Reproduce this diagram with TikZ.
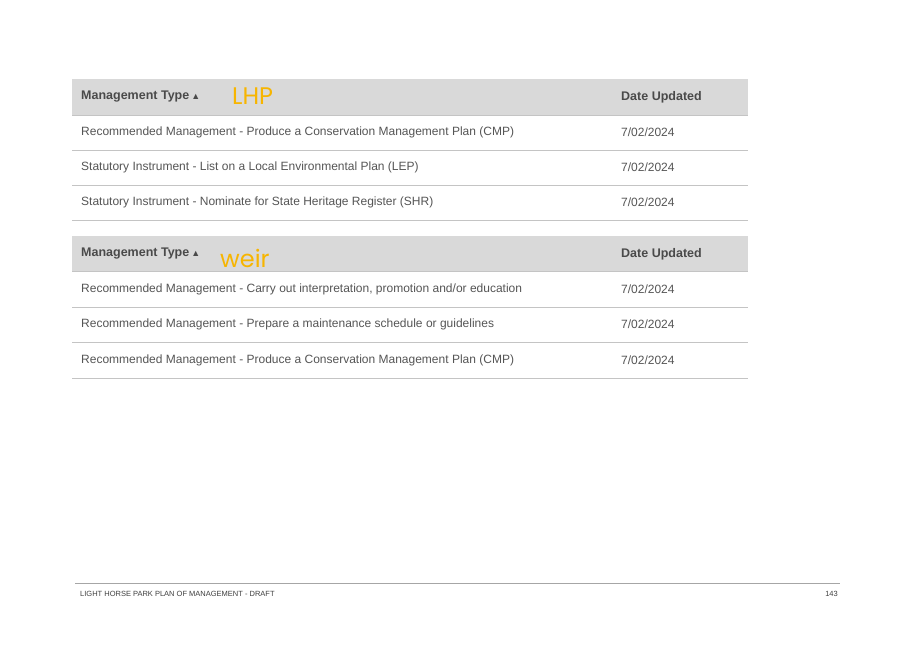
\documentclass[tikz,border=0pt]{standalone}
\usepackage{fontspec}
\setmainfont{Liberation Sans}
\newfontfamily\hand{Poppins}
\definecolor{hdr}{HTML}{D9D9D9}
\definecolor{rl}{HTML}{C4C4C4}
\definecolor{tx}{HTML}{555555}
\definecolor{hx}{HTML}{4A4A4A}
\definecolor{yel}{HTML}{F7B500}
\begin{document}
\begin{tikzpicture}[x=1pt,y=-1pt,
  cell/.style={anchor=west,inner sep=0pt,text=tx,font=\fontsize{12}{14}\selectfont},
  hcell/.style={anchor=west,inner sep=0pt,text=hx,font=\fontsize{12.5}{14}\selectfont\bfseries},
  rule/.style={draw=rl,line width=0.9pt},
  handw/.style={anchor=west,inner sep=0pt,text=yel,font=\hand\fontsize{24}{24}\selectfont}]
\useasboundingbox (0,0) rectangle (917,648);
\fill[white] (0,0) rectangle (917,648);
% table 1
\fill[hdr] (72,79) rectangle (748,115);
\draw[rule] (72,115) -- (748,115);
\node[hcell] (h1) at (81,97) {Management Type\,\raisebox{0.1ex}{\fontsize{9}{9}\selectfont▲}};
\node[handw] (lhp) at (232,96) {LHP};
\node[hcell] (d1) at (621,97) {Date Updated};
\node[cell] (r11) at (81,132) {Recommended Management - Produce a Conservation Management Plan (CMP)};
\node[cell] (r11d) at (621,132) {7/02/2024};
\draw[rule] (72,150) -- (748,150);
\node[cell] (r12) at (81,167) {Statutory Instrument - List on a Local Environmental Plan (LEP)};
\node[cell] (r12d) at (621,167) {7/02/2024};
\draw[rule] (72,185) -- (748,185);
\node[cell] (r13) at (81,202) {Statutory Instrument - Nominate for State Heritage Register (SHR)};
\node[cell] (r13d) at (621,202) {7/02/2024};
\draw[rule] (72,220) -- (748,220);
% table 2
\fill[hdr] (72,236) rectangle (748,271);
\draw[rule] (72,271) -- (748,271);
\node[hcell] (h2) at (81,254) {Management Type\,\raisebox{0.1ex}{\fontsize{9}{9}\selectfont▲}};
\node[handw] (weir) at (220,258) {weir};
\node[hcell] (d2) at (621,254) {Date Updated};
\node[cell] (r21) at (81,289) {Recommended Management - Carry out interpretation, promotion and/or education};
\node[cell] (r21d) at (621,289) {7/02/2024};
\draw[rule] (72,307) -- (748,307);
\node[cell] (r22) at (81,324) {Recommended Management - Prepare a maintenance schedule or guidelines};
\node[cell] (r22d) at (621,324) {7/02/2024};
\draw[rule] (72,342) -- (748,342);
\node[cell] (r23) at (81,360) {Recommended Management - Produce a Conservation Management Plan (CMP)};
\node[cell] (r23d) at (621,360) {7/02/2024};
\draw[rule] (72,378) -- (748,378);
% footer
\draw[draw=gray!70,line width=0.6pt] (75,583) -- (840,583);
\node[anchor=west,inner sep=0pt,text=black!75,font=\fontsize{7.5}{9}\selectfont] (ft) at (80,594) {LIGHT HORSE PARK PLAN OF MANAGEMENT - DRAFT};
\node[anchor=east,inner sep=0pt,text=black!75,font=\fontsize{7.5}{9}\selectfont] (pg) at (838,594) {143};
\end{tikzpicture}
\end{document}
